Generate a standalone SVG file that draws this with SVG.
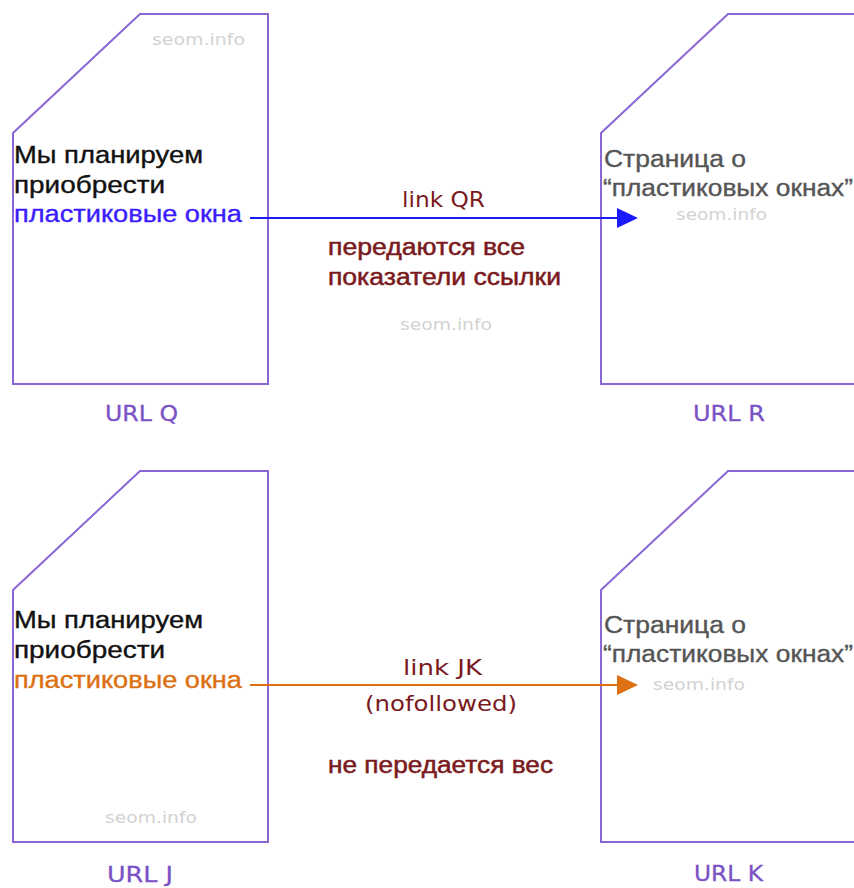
<svg xmlns="http://www.w3.org/2000/svg" width="854" height="888" viewBox="0 0 854 888">
<defs>
<style>
.page{fill:#fff;stroke:#8a66d6;stroke-width:2}
.ru{font-family:"Liberation Sans",Arial,sans-serif;font-size:23px;stroke-width:0.35px}
.blk{fill:#111;stroke:#111}
.gry{fill:#555;stroke:#555}
.blu{fill:#3a1cff;stroke:#3a1cff}
.org{fill:#dc7012;stroke:#dc7012}
.red{fill:#7a1a1e;stroke:#7a1a1e;stroke-width:0.5px;font-family:"Liberation Sans",Arial,sans-serif;font-size:23px}
.lnk{fill:#7a1a1e;font-family:"DejaVu Sans",Verdana,sans-serif;font-size:22px}
.url{fill:#7a52c6;font-family:"DejaVu Sans",Verdana,sans-serif;font-size:22px;stroke:#7a52c6;stroke-width:0.3px}
.wm{fill:#d2d2d2;font-family:"DejaVu Sans",Verdana,sans-serif;font-size:16px}
</style>
</defs>
<rect width="854" height="888" fill="#fff"/>

<g id="page-q">
<polygon class="page" points="13,133 140,14 268,14 268,384 13,384"/>
<text class="wm" x="152" y="45" textLength="93" lengthAdjust="spacingAndGlyphs">seom.info</text>
<text class="ru blk" x="14" y="163" textLength="189" lengthAdjust="spacingAndGlyphs">Мы планируем</text>
<text class="ru blk" x="14" y="193" textLength="151" lengthAdjust="spacingAndGlyphs">приобрести</text>
<text class="ru blu" x="14" y="222" textLength="228" lengthAdjust="spacingAndGlyphs">пластиковые окна</text>
</g>
<text id="label-q" class="url" x="105" y="421" textLength="73" lengthAdjust="spacingAndGlyphs">URL Q</text>

<g id="page-r">
<polygon class="page" points="601,133 728,14 880,14 880,384 601,384"/>
<text class="ru gry" x="604" y="167" textLength="142" lengthAdjust="spacingAndGlyphs">Страница о</text>
<text class="ru gry" x="603" y="196" textLength="250" lengthAdjust="spacingAndGlyphs">“пластиковых окнах”</text>
<text class="wm" x="676" y="220" textLength="91" lengthAdjust="spacingAndGlyphs">seom.info</text>
</g>
<text id="label-r" class="url" x="693" y="421" textLength="72" lengthAdjust="spacingAndGlyphs">URL R</text>

<g id="page-j">
<polygon class="page" points="13,590 140,471 268,471 268,842 13,842"/>
<text class="ru blk" x="14" y="628" textLength="189" lengthAdjust="spacingAndGlyphs">Мы планируем</text>
<text class="ru blk" x="14" y="658" textLength="151" lengthAdjust="spacingAndGlyphs">приобрести</text>
<text class="ru org" x="14" y="688" textLength="228" lengthAdjust="spacingAndGlyphs">пластиковые окна</text>
<text class="wm" x="105" y="823" textLength="92" lengthAdjust="spacingAndGlyphs">seom.info</text>
</g>
<text id="label-j" class="url" x="107" y="882" textLength="66" lengthAdjust="spacingAndGlyphs">URL J</text>

<g id="page-k">
<polygon class="page" points="601,590 728,471 880,471 880,842 601,842"/>
<text class="ru gry" x="604" y="633" textLength="142" lengthAdjust="spacingAndGlyphs">Страница о</text>
<text class="ru gry" x="603" y="662" textLength="250" lengthAdjust="spacingAndGlyphs">“пластиковых окнах”</text>
<text class="wm" x="653" y="690" textLength="92" lengthAdjust="spacingAndGlyphs">seom.info</text>
</g>
<text id="label-k" class="url" x="694" y="881" textLength="69" lengthAdjust="spacingAndGlyphs">URL K</text>

<g id="connectors">
<line x1="250" y1="218" x2="620" y2="218" stroke="#1a1aff" stroke-width="2"/>
<polygon points="617,208 638,218 617,228" fill="#1a1aff"/>
<line x1="250" y1="685" x2="620" y2="685" stroke="#dc7012" stroke-width="2"/>
<polygon points="617,675 638,685 617,695" fill="#dc7012"/>
</g>

<g id="labels-qr">
<text class="lnk" x="402" y="207" textLength="83" lengthAdjust="spacingAndGlyphs">link QR</text>
<text class="red" x="328" y="255" textLength="197" lengthAdjust="spacingAndGlyphs">передаются все</text>
<text class="red" x="328" y="285" textLength="233" lengthAdjust="spacingAndGlyphs">показатели ссылки</text>
<text class="wm" x="400" y="330" textLength="92" lengthAdjust="spacingAndGlyphs">seom.info</text>
</g>

<g id="labels-jk">
<text class="lnk" x="403" y="675" textLength="79" lengthAdjust="spacingAndGlyphs">link JK</text>
<text class="lnk" x="365" y="711" textLength="152" lengthAdjust="spacingAndGlyphs">(nofollowed)</text>
<text class="red" x="328" y="773" textLength="225" lengthAdjust="spacingAndGlyphs">не передается вес</text>
</g>
</svg>
